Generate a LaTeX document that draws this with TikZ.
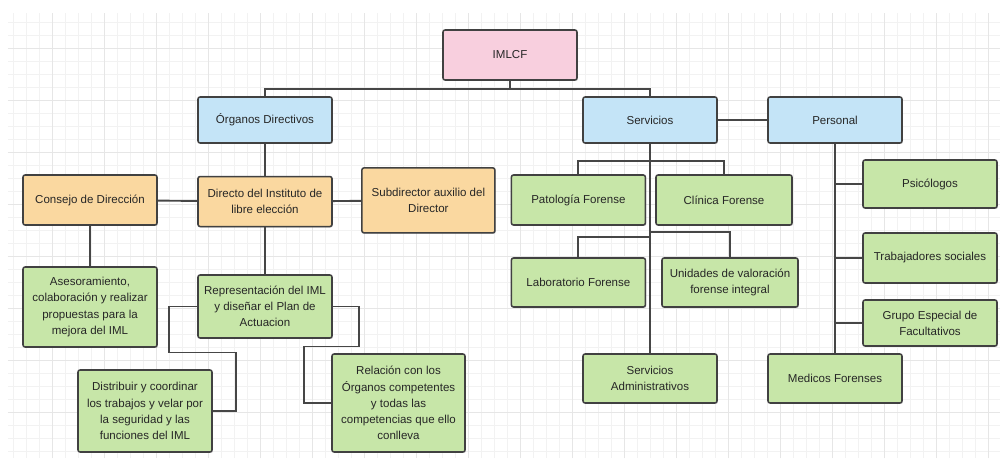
\documentclass[tikz,border=0pt]{standalone}
\usepackage{fontspec}
\setmainfont{Liberation Sans}
\usepackage{xcolor}
\usepackage{tikz}
\usetikzlibrary{positioning,shadows,calc}
\definecolor{boxline}{RGB}{65, 65, 65}
\definecolor{conline}{RGB}{70, 70, 70}
\definecolor{gridminor}{RGB}{242, 242, 242}
\definecolor{gridmajor}{RGB}{230, 230, 230}
\definecolor{rootpink}{RGB}{248, 207, 222}
\definecolor{headblue}{RGB}{196, 228, 247}
\definecolor{mgmtorange}{RGB}{250, 216, 160}
\definecolor{taskgreen}{RGB}{199, 230, 168}

\begin{document}
\begin{tikzpicture}[
    base/.style={rectangle, rounded corners=1.5pt, draw=boxline, line width=1.1pt,
                 align=center, minimum width=3.35cm, minimum height=1.25cm,
                 inner sep=2pt, font=\fontsize{8.2}{11.5}\selectfont, text=black!85,
                 drop shadow={opacity=0.3, shadow xshift=0.7pt, shadow yshift=-0.7pt}},
    root/.style={base, fill=rootpink},
    head/.style={base, fill=headblue, minimum height=1.15cm},
    mgmt/.style={base, fill=mgmtorange},
    task/.style={base, fill=taskgreen},
    link/.style={draw=conline, line width=1.35pt}
]
\useasboundingbox (0,0) rectangle (25.05,11.6);
% grid
\draw[gridminor, line width=0.4pt] (0.2,0.15) grid[step=0.325] (25.0,11.275);
\draw[gridmajor, line width=0.6pt] (0.2,0.15) grid[step=1.3] (25.0,11.275);

\node[root] (imlcf) at (12.75,10.225) {IMLCF};

\node[head] (organos) at (6.625,8.6) {Órganos Directivos};
\node[head] (servicios) at (16.25,8.6) {Servicios};
\node[head] (personal) at (20.875,8.6) {Personal};

\node[mgmt, below=0.8cm of organos] (directo) {Directo del Instituto de\\libre elección};
\node[mgmt] (consejo) at (2.25,6.6) {Consejo de Dirección};
\node[mgmt, minimum width=3.325cm, minimum height=1.625cm] (subdirector) at (10.71,6.59) {Subdirector auxilio del\\Director};

\node[task, minimum height=2.0cm] (asesoramiento) at (2.25,3.925) {Asesoramiento,\\colaboración y realizar\\propuestas para la\\mejora del IML};
\node[task, minimum height=1.575cm] (representacion) at (6.625,3.9375) {Representación del IML\\y diseñar el Plan de\\Actuacion};
\node[task, minimum height=2.05cm] (distribuir) at (3.625,1.325) {Distribuir y coordinar\\los trabajos y velar por\\la seguridad y las\\funciones del IML};
\node[task, minimum width=3.325cm, minimum height=2.45cm] (relacion) at (9.9625,1.525) {Relación con los\\Órganos competentes\\y todas las\\competencias que ello\\conlleva};

\node[task] (patologia) at (14.46,6.6) {Patología Forense};
\node[task, minimum width=3.4cm] (clinica) at (18.1,6.6) {Clínica Forense};
\node[task, minimum height=1.225cm] (laboratorio) at (14.46,4.5375) {Laboratorio Forense};
\node[task, minimum width=3.4cm, minimum height=1.225cm] (unidades) at (18.25,4.5375) {Unidades de valoración\\forense integral};
\node[task, minimum height=1.225cm] (admin) at (16.25,2.1375) {Servicios\\Administrativos};

\node[task, minimum height=1.2cm] (psicologos) at (23.25,7.0) {Psicólogos};
\node[task] (trabajadores) at (23.25,5.15) {Trabajadores sociales};
\node[task, minimum height=1.15cm] (grupo) at (23.25,3.525) {Grupo Especial de\\Facultativos};
\node[task, minimum height=1.225cm] (medicos) at (20.875,2.1375) {Medicos Forenses};

% top level
\draw[link] (imlcf.south) -- ++(0,-0.2) coordinate (topbus);
\draw[link] (organos.north) |- (topbus) -| (servicios.north);
\draw[link] (servicios.east) -- (personal.west);

% organos directivos
\draw[link] (organos) -- (directo);
\draw[link] (consejo) -- (directo);
\draw[link] (directo) -- (subdirector);
\draw[link] (consejo) -- (asesoramiento);
\draw[link] (directo) -- (representacion);
\draw[link] (representacion.west) -- ++(-0.7,0) -- ++(0,-1.15) -- ++(1.675,0) |- (distribuir.east);
\draw[link] (representacion.east) -- ++(0.65,0) -- ++(0,-1.0) -- ++(-1.375,0) |- (relacion.west);

% servicios
\draw[link] (servicios) -- (admin);
\draw[link] (patologia.north) |- ($(servicios.south)+(0,-0.425)$) -| (clinica.north);
\draw[link] (laboratorio.north) -- ++(0,0.5) -| (servicios.south);
\draw[link] (unidades.north) -- ++(0,0.625) -| (servicios.south);

% personal
\draw[link] (personal) -- (medicos);
\draw[link] (psicologos.west) -| (personal.south);
\draw[link] (trabajadores.west) -| (personal.south);
\draw[link] (grupo.west) -| (personal.south);
\end{tikzpicture}
\end{document}
